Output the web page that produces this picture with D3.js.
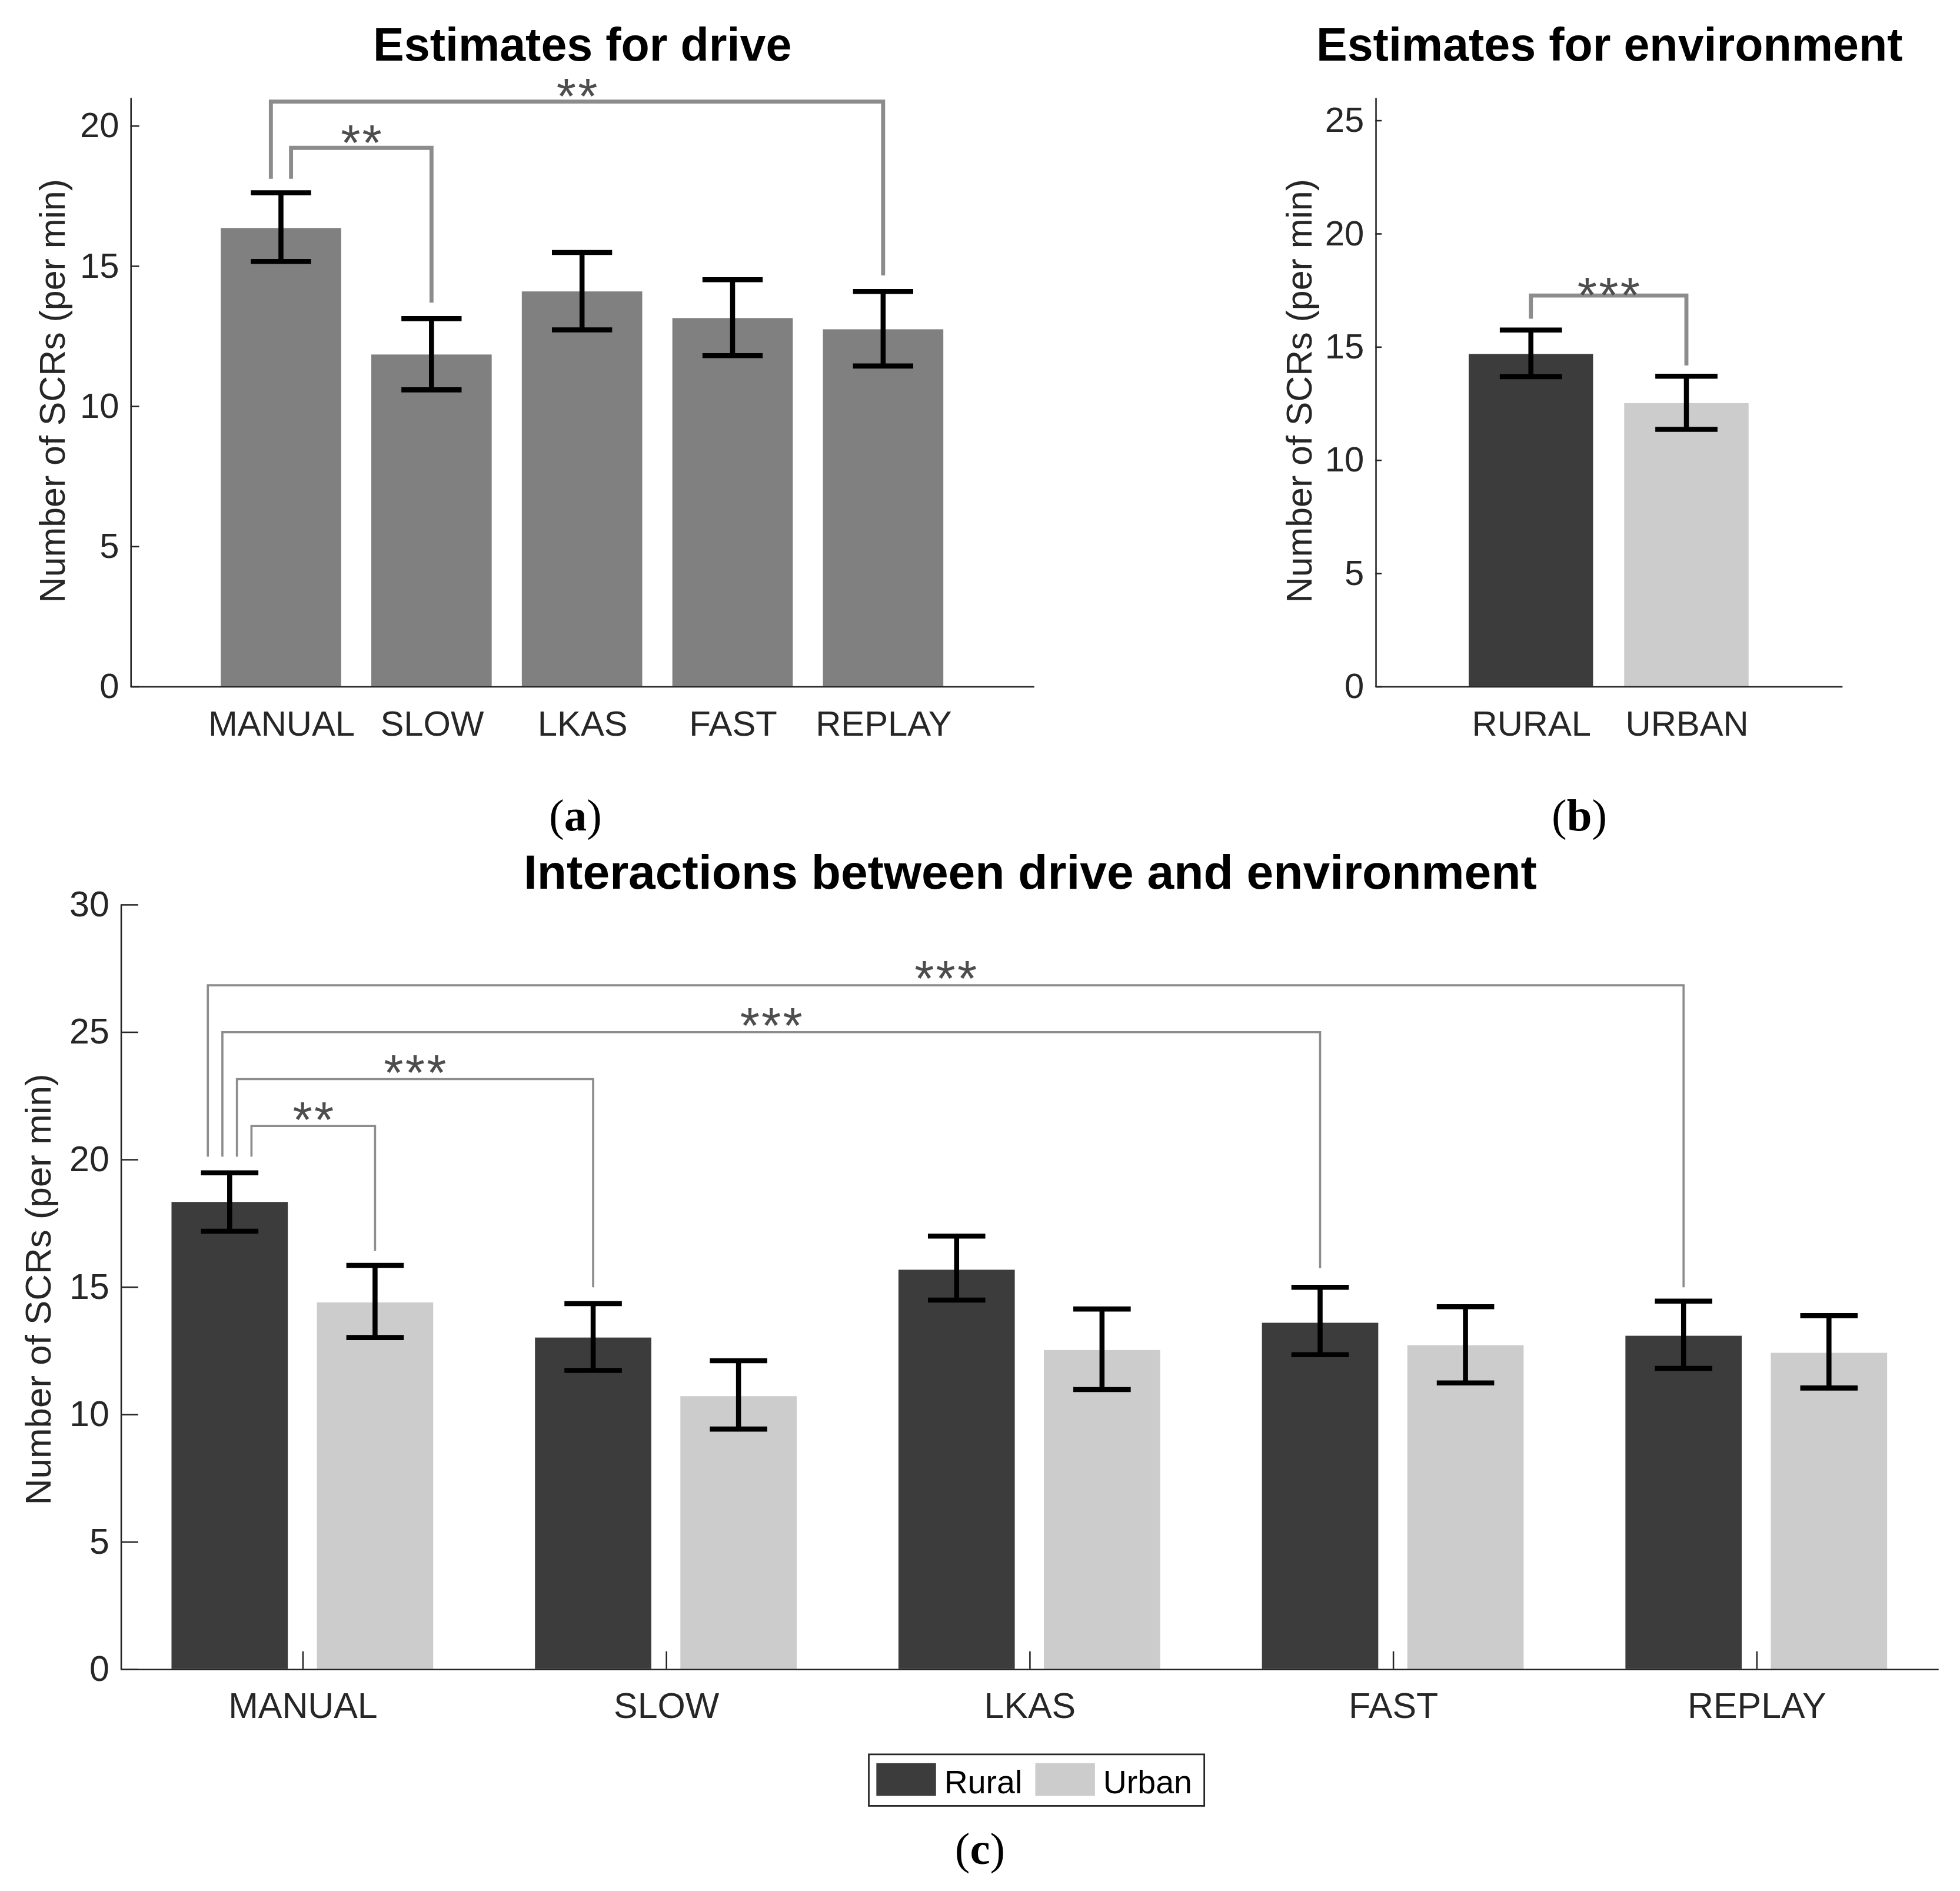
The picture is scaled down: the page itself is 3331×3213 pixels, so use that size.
<!DOCTYPE html>
<html>
<head>
<meta charset="utf-8">
<script src="https://cdn.jsdelivr.net/npm/d3@7"></script>
<style>
  body { margin: 0; background: #fff; }
  text { font-family: "Liberation Sans", Arial, sans-serif; }
</style>
</head>
<body>
<script>
// ---- data ----
const driveCats = ["MANUAL", "SLOW", "LKAS", "FAST", "REPLAY"];
const driveMean = [16.34, 11.83, 14.08, 13.13, 12.73];
const driveLo   = [15.15, 10.57, 12.71, 11.79, 11.42];
const driveHi   = [17.60, 13.11, 15.47, 14.50, 14.08];
const driveTicks = [0, 5, 10, 15, 20];

const envCats = ["RURAL", "URBAN"];
const envMean = [14.67, 12.50];
const envLo   = [13.67, 11.34];
const envHi   = [15.73, 13.69];
const envTicks = [0, 5, 10, 15, 20, 25];

const ruralMean = [18.32, 13.00, 15.66, 13.58, 13.07];
const ruralLo   = [17.17, 11.71, 14.47, 12.33, 11.79];
const ruralHi   = [19.46, 14.33, 16.98, 14.97, 14.43];
const urbanMean = [14.38, 10.70, 12.51, 12.70, 12.40];
const urbanLo   = [13.00,  9.41, 10.96, 11.22, 11.02];
const urbanHi   = [15.83, 12.09, 14.12, 14.21, 13.86];
const interTicks = [0, 5, 10, 15, 20, 25, 30];
const envLegend = ["Rural", "Urban"];

// significance brackets: category indices, bar level, leg end values, label
const driveSig = [
  { a: 0, b: 4, top: 20.85, endA: 18.1, endB: 14.65, label: "**" },
  { a: 0, b: 1, top: 19.20, endA: 18.1, endB: 13.68, label: "**" }
];
const envSig = [
  { a: 0, b: 1, top: 17.25, endA: 16.23, endB: 14.16, label: "***" }
];
// interaction brackets all start at MANUAL/Rural
const interSig = [
  { b: 4, bGroup: "rural", top: 26.82, endA: 20.1, endB: 14.97, label: "***" },
  { b: 3, bGroup: "rural", top: 24.98, endA: 20.1, endB: 15.72, label: "***" },
  { b: 1, bGroup: "rural", top: 23.14, endA: 20.1, endB: 14.97, label: "***" },
  { b: 0, bGroup: "urban", top: 21.30, endA: 20.1, endB: 16.40, label: "**" }
];

// ---- layout ----
const W = 1560, H = 1504.7;
const axisColor = "#262626";
const bracketGray = "#8c8c8c";
const starColor = "#4d4d4d";

const svg = d3.select("body").append("svg")
    .attr("width", 3331).attr("height", 3213)
    .attr("viewBox", `0 0 ${W} ${H}`);

function drawYAxis(g, y, ticks, tickLen, x0, fontSize) {
    const ax = g.append("g").attr("transform", `translate(${x0},0)`)
        .call(d3.axisLeft(y).tickValues(ticks).tickSizeInner(-tickLen).tickSizeOuter(0).tickPadding(9));
    ax.select(".domain").attr("stroke", axisColor).attr("stroke-width", 1.2);
    ax.selectAll(".tick line").attr("stroke", axisColor).attr("stroke-width", 1.2);
    ax.selectAll(".tick text").attr("fill", axisColor).attr("font-size", fontSize)
        .attr("font-family", "Liberation Sans, Arial, sans-serif");
}

function drawXAxis(g, x, cats, tickLen, y0, pad, fontSize) {
    const ax = g.append("g").attr("transform", `translate(0,${y0})`)
        .call(d3.axisBottom(x).tickValues(cats.map((d, i) => i + 1)).tickFormat(i => cats[i - 1])
            .tickSizeInner(-tickLen).tickSizeOuter(0).tickPadding(pad));
    ax.select(".domain").attr("stroke", axisColor).attr("stroke-width", 1.2);
    ax.selectAll(".tick line").attr("stroke", axisColor).attr("stroke-width", 1.2);
    ax.selectAll(".tick text").attr("fill", axisColor).attr("font-size", fontSize)
        .attr("font-family", "Liberation Sans, Arial, sans-serif");
}

function errPath(x, y, cx, half, lo, hi) {
    return `M${x(cx - half)},${y(hi)}H${x(cx + half)}M${x(cx)},${y(hi)}V${y(lo)}M${x(cx - half)},${y(lo)}H${x(cx + half)}`;
}

function bracket(g, x, y, xa, xb, s, width, gap) {
    g.append("path")
        .attr("d", `M${x(xa)},${y(s.endA)}V${y(s.top)}H${x(xb)}V${y(s.endB)}`)
        .attr("fill", "none").attr("stroke", bracketGray).attr("stroke-width", width);
    const fs = 40;
    g.append("text")
        .attr("x", (x(xa) + x(xb)) / 2 + 0.75)
        .attr("y", y(s.top) - gap + 0.34 * fs)
        .attr("text-anchor", "middle").attr("font-size", fs).attr("fill", starColor)
        .attr("letter-spacing", 1.5)
        .text(s.label);
}

function title(txt, cx, by, fs) {
    svg.append("text").attr("x", cx).attr("y", by).attr("text-anchor", "middle")
        .attr("font-size", fs).attr("font-weight", "bold").attr("fill", "#000").text(txt);
}

function yLabel(cx, cy, fs) {
    svg.append("text").attr("transform", `translate(${cx},${cy}) rotate(-90)`)
        .attr("text-anchor", "middle").attr("dy", "0.35em")
        .attr("font-size", fs).attr("fill", axisColor).text("Number of SCRs (per min)");
}

function panelTag(letter, cx, by) {
    const t = svg.append("text").attr("x", cx).attr("y", by).attr("text-anchor", "middle")
        .attr("font-size", 36).attr("fill", "#000")
        .style("font-family", "'Liberation Serif', 'DejaVu Serif', serif");
    t.append("tspan").text("(");
    t.append("tspan").attr("font-weight", "bold").text(letter);
    t.append("tspan").text(")");
}

// ---- (a) Estimates for drive ----
const gA = svg.append("g");
const xA = d3.scaleLinear().domain([0, 6]).range([103.8, 822.7]);
const yA = d3.scaleLinear().domain([0, 21]).range([546, 77.5]);

gA.selectAll("rect.bar").data(driveCats).join("rect").attr("class", "bar")
    .attr("x", (d, i) => xA(i + 1 - 0.4)).attr("width", xA(0.8) - xA(0))
    .attr("y", (d, i) => yA(driveMean[i])).attr("height", (d, i) => yA(0) - yA(driveMean[i]))
    .attr("fill", "#808080");
drawYAxis(gA, yA, driveTicks, 7, xA(0), 28);
drawXAxis(gA, xA, driveCats, 0, yA(0), 19.5, 28);
const driveLegOffset = [-0.067, 0.067];
driveSig.forEach((s, k) => bracket(gA, xA, yA, s.a + 1 + driveLegOffset[k], s.b + 1, s, 3.2, 4));
gA.selectAll("path.err").data(driveCats).join("path").attr("class", "err")
    .attr("d", (d, i) => errPath(xA, yA, i + 1, 0.2, driveLo[i], driveHi[i]))
    .attr("fill", "none").attr("stroke", "#000").attr("stroke-width", 4);
title("Estimates for drive", 463.5, 48, 37);
yLabel(41.5, 311, 28.5);
panelTag("a", 458, 661);

// ---- (b) Estimates for environment ----
const gB = svg.append("g");
const xB = d3.scaleLinear().domain([0, 3]).range([1094.7, 1466]);
const yB = d3.scaleLinear().domain([0, 26]).range([546, 77.5]);
const envColors = ["#3c3c3c", "#cccccc"];

gB.selectAll("rect.bar").data(envCats).join("rect").attr("class", "bar")
    .attr("x", (d, i) => xB(i + 1 - 0.4)).attr("width", xB(0.8) - xB(0))
    .attr("y", (d, i) => yB(envMean[i])).attr("height", (d, i) => yB(0) - yB(envMean[i]))
    .attr("fill", (d, i) => envColors[i]);
drawYAxis(gB, yB, envTicks, 5, xB(0), 28);
drawXAxis(gB, xB, envCats, 0, yB(0), 19.5, 28);
envSig.forEach(s => bracket(gB, xB, yB, s.a + 1, s.b + 1, s, 3.2, 0));
gB.selectAll("path.err").data(envCats).join("path").attr("class", "err")
    .attr("d", (d, i) => errPath(xB, yB, i + 1, 0.2, envLo[i], envHi[i]))
    .attr("fill", "none").attr("stroke", "#000").attr("stroke-width", 4);
title("Estimates for environment", 1281, 48, 37);
yLabel(1034, 311, 28.5);
panelTag("b", 1257, 661);

// ---- (c) Interactions between drive and environment ----
const gC = svg.append("g");
const xC = d3.scaleLinear().domain([0.5, 5.5]).range([96, 1542.5]);
const yC = d3.scaleLinear().domain([0, 30]).range([1328, 719.5]);
const groupOffset = { rural: -0.2, urban: 0.2 };
const barW = 0.32;
const series = [
    { key: "rural", mean: ruralMean, lo: ruralLo, hi: ruralHi, color: "#3c3c3c" },
    { key: "urban", mean: urbanMean, lo: urbanLo, hi: urbanHi, color: "#cccccc" }
];

series.forEach(s => {
    gC.selectAll(`rect.${s.key}`).data(driveCats).join("rect").attr("class", s.key)
        .attr("x", (d, i) => xC(i + 1 + groupOffset[s.key] - barW / 2))
        .attr("width", xC(barW) - xC(0))
        .attr("y", (d, i) => yC(s.mean[i])).attr("height", (d, i) => yC(0) - yC(s.mean[i]))
        .attr("fill", s.color);
});
drawYAxis(gC, yC, interTicks, 14, xC(0.5), 28.5);
drawXAxis(gC, xC, driveCats, 14, yC(0), 19, 28.5);
const interLegOffset = [-0.06, -0.02, 0.02, 0.06];
interSig.forEach((s, k) => bracket(gC, xC, yC, 1 + groupOffset.rural + interLegOffset[k],
    s.b + 1 + groupOffset[s.bGroup], s, 1.7, 5));
series.forEach(s => {
    gC.selectAll(`path.err-${s.key}`).data(driveCats).join("path").attr("class", `err-${s.key}`)
        .attr("d", (d, i) => errPath(xC, yC, i + 1 + groupOffset[s.key], 0.079, s.lo[i], s.hi[i]))
        .attr("fill", "none").attr("stroke", "#000").attr("stroke-width", 4);
});
title("Interactions between drive and environment", 820, 707, 38.5);
yLabel(30, 1026, 29);

// legend
const lg = svg.append("g");
lg.append("rect").attr("x", 691.5).attr("y", 1396).attr("width", 267).attr("height", 41)
    .attr("fill", "#fff").attr("stroke", axisColor).attr("stroke-width", 1.3);
const legX = [697.5, 824];
series.forEach((s, i) => {
    lg.append("rect").attr("x", legX[i]).attr("y", 1403).attr("width", 47.5).attr("height", 26)
        .attr("fill", s.color);
    lg.append("text").attr("x", legX[i] + 54).attr("y", 1427).attr("font-size", 26)
        .attr("fill", "#000").text(envLegend[i]);
});
panelTag("c", 780, 1483);
</script>
</body>
</html>
